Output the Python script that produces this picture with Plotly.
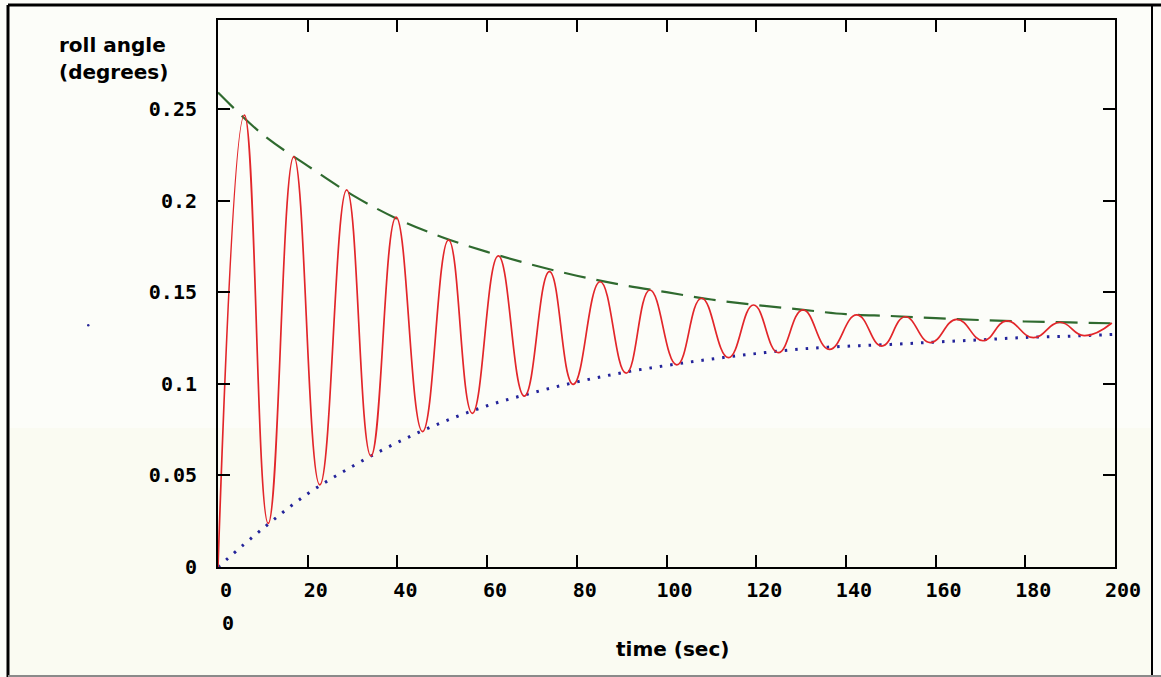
import plotly.graph_objects as go

# Roll response of the hull: successive extremes, time (s) and roll angle (degrees)
roll_t = [0, 5.9, 11.2, 16.9, 22.7, 28.7, 34.1, 39.7, 45.6, 51.4, 56.7, 62.5,
          68.3, 73.9, 79.2, 85.2, 91.0, 96.3, 102.3, 107.8, 113.8, 119.4, 124.9,
          130.4, 136.3, 142.4, 148.0, 153.2, 158.8, 164.7, 170.6, 175.8, 181.8,
          187.7, 193.1, 199.3]
roll_deg = [0.0, 0.2467, 0.0238, 0.224, 0.0448, 0.2058, 0.0606, 0.191, 0.0739,
            0.1785, 0.0839, 0.1698, 0.0933, 0.1612, 0.0997, 0.1557, 0.1058,
            0.1512, 0.1103, 0.1467, 0.1143, 0.143, 0.117, 0.1403, 0.1188, 0.1376,
            0.1206, 0.1366, 0.1225, 0.1352, 0.1235, 0.1343, 0.1252, 0.1336,
            0.1263, 0.1332]

# Decay envelopes
env_t = [0, 10, 20, 30, 40, 50, 60, 70, 80, 90, 100, 110, 120, 130, 140, 150,
         160, 170, 180, 190, 200]
env_upper = [0.259, 0.236, 0.219, 0.203, 0.190, 0.180, 0.172, 0.165, 0.159,
             0.154, 0.150, 0.146, 0.143, 0.1405, 0.138, 0.137, 0.1358, 0.1348,
             0.134, 0.1335, 0.133]
env_lower = [0.0, 0.021, 0.040, 0.055, 0.068, 0.079, 0.088, 0.095, 0.101,
             0.106, 0.110, 0.1135, 0.1165, 0.119, 0.1205, 0.1215, 0.1228,
             0.124, 0.1253, 0.126, 0.127]

x_ticks = [0, 20, 40, 60, 80, 100, 120, 140, 160, 180, 200]
y_ticks = [0, 0.05, 0.1, 0.15, 0.2, 0.25]
y_tick_text = ["0", "0.05", "0.1", "0.15", "0.2", "0.25"]

W, H = 1161, 677
L, R, T, B = 218, 1115, 20, 567  # plot area in pixels


def px(x):
    return (x - L) / (R - L)


def py(y):
    return (B - y) / (B - T)


mono = "DejaVu Sans Mono"
sans = "DejaVu Sans"

fig = go.Figure()
fig.add_trace(go.Scatter(x=env_t, y=env_upper, mode="lines", line_shape="spline",
                         line=dict(color="#2f6a2f", width=2.2, dash="22px,11px"),
                         hoverinfo="skip"))
fig.add_trace(go.Scatter(x=env_t, y=env_lower, mode="lines", line_shape="spline",
                         line=dict(color="#23239a", width=3, dash="2.5px,8px"),
                         hoverinfo="skip"))
fig.add_trace(go.Scatter(x=roll_t, y=roll_deg, mode="lines", line_shape="spline",
                         line=dict(color="#e2262a", width=1.7, smoothing=1.3)))

axis_common = dict(showline=True, linecolor="black", linewidth=2, mirror="ticks",
                   ticks="inside", ticklen=12, tickwidth=2, tickcolor="black",
                   showgrid=False, zeroline=False, fixedrange=True,
                   tickfont=dict(family=mono, size=20, color="black", weight="bold"))

fig.update_xaxes(range=[0, 200], tickvals=x_ticks, ticklabelshift=8,
                 ticklabelstandoff=4, **axis_common)
fig.update_yaxes(range=[0, 0.25 + (109 - T) / 1832], tickvals=y_ticks,
                 ticktext=y_tick_text, ticklabelstandoff=15, **axis_common)

annotations = [
    dict(x=px(57), y=py(45), text="roll angle", xanchor="left", yanchor="middle"),
    dict(x=px(57), y=py(72), text="(degrees)", xanchor="left", yanchor="middle"),
    dict(x=px(672), y=py(649), text="time (sec)", xanchor="center", yanchor="middle"),
]
for a in annotations:
    a.update(xref="paper", yref="paper", showarrow=False,
             font=dict(family=sans, size=20, color="black", weight="bold"))
annotations.append(dict(x=px(228), y=py(623), xref="paper", yref="paper",
                        text="0", showarrow=False, xanchor="center", yanchor="middle",
                        font=dict(family=mono, size=20, color="black", weight="bold")))

shapes = [
    # faint tint over the lower part of the sheet
    dict(type="rect", xref="paper", yref="paper", x0=px(10), x1=px(1151),
         y0=py(676), y1=py(428), fillcolor="#fafbf2", line=dict(width=0),
         layer="below"),
    # outer frame
    dict(type="line", xref="paper", yref="paper", x0=px(8), x1=px(1161),
         y0=py(5), y1=py(5), line=dict(color="black", width=3)),
    dict(type="line", xref="paper", yref="paper", x0=px(8), x1=px(8),
         y0=py(5), y1=py(677), line=dict(color="black", width=3)),
    dict(type="line", xref="paper", yref="paper", x0=px(1152), x1=px(1152),
         y0=py(5), y1=py(677), line=dict(color="black", width=2)),
    dict(type="line", xref="paper", yref="paper", x0=px(8), x1=px(1161),
         y0=py(676), y1=py(676), line=dict(color="#8a8a8a", width=2)),
    # stray ink dot
    dict(type="circle", xref="paper", yref="paper", x0=px(87), x1=px(89.5),
         y0=py(326.5), y1=py(324), fillcolor="#2a2a9a", line=dict(width=0)),
]

fig.update_layout(
    width=W, height=H,
    margin=dict(l=L, r=W - R, t=T, b=H - B, pad=0),
    paper_bgcolor="#fcfdf9", plot_bgcolor="rgba(0,0,0,0)",
    showlegend=False, annotations=annotations, shapes=shapes,
)

fig.write_html("out.html", config={"displayModeBar": False})
